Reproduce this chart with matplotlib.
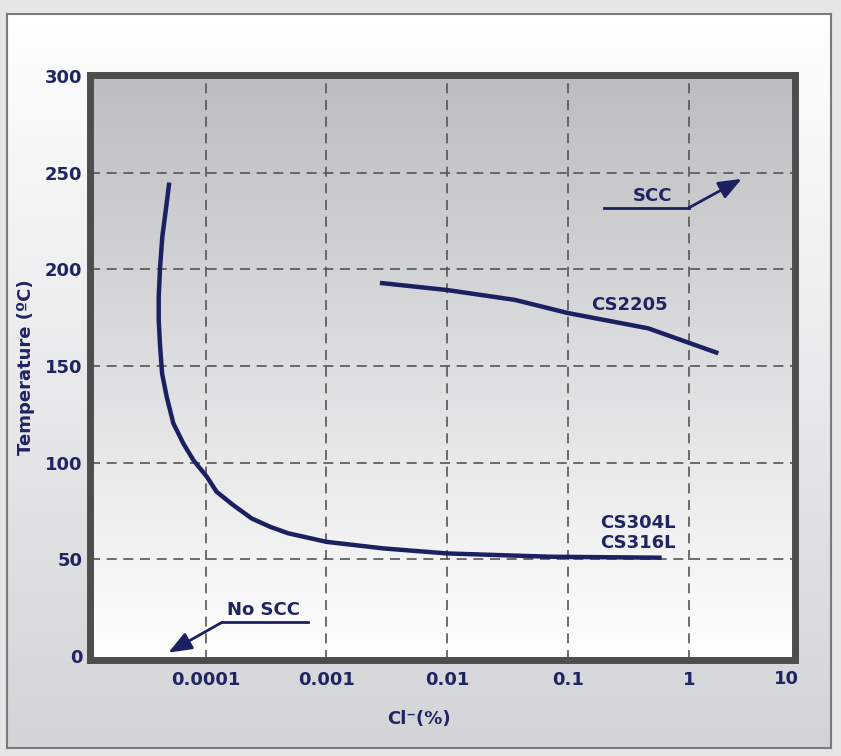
import numpy as np
import matplotlib
matplotlib.use('Agg')
import matplotlib.pyplot as plt
from matplotlib.colors import LinearSegmentedColormap

# curve data
cs304_cl = [4.99e-5, 4.67e-5, 4.37e-5, 4.19e-5, 4.08e-5, 4.08e-5, 4.19e-5, 4.35e-5,
            4.75e-5, 5.39e-5, 6.52e-5, 7.89e-5, 1.02e-4, 1.23e-4, 1.69e-4, 2.40e-4,
            3.41e-4, 4.83e-4, 1.0e-3, 2.96e-3, 1.0e-2, 7.1e-2, 0.597]
cs304_temp = [244.9, 230.7, 216.9, 201.4, 185.9, 173.8, 160, 146.2,
              134.1, 120.4, 110, 101.4, 92.8, 85, 78.1, 71.2,
              66.9, 63.5, 59.1, 55.7, 53.1, 51.4, 50.9]

cs2205_cl = [2.77e-3, 1.0e-2, 3.64e-2, 0.1, 0.462, 1.76]
cs2205_temp = [193, 189.3, 184.2, 177.4, 169.5, 156.6]

x_ticks = [1e-4, 1e-3, 1e-2, 1e-1, 1]
x_ticklabels = ['0.0001', '0.001', '0.01', '0.1', '1']
y_ticks = [0, 50, 100, 150, 200, 250, 300]

navy = '#1b2160'
text_col = '#1f2462'
fs = 13

fig = plt.figure(figsize=(8.41, 7.56), dpi=100)
fig.patch.set_facecolor('#e6e6e6')
W, H = 841.0, 756.0

def box(x0, y0, x1, y1):
    return [x0 / W, 1 - y1 / H, (x1 - x0) / W, (y1 - y0) / H]

# outer panel with gradient (white at top, grey at bottom)
panel = fig.add_axes(box(7, 13.5, 831, 748))
cm_panel = LinearSegmentedColormap.from_list('p', ['#ffffff', '#d3d4d7'])
panel.imshow(np.linspace(0, 1, 256).reshape(-1, 1), cmap=cm_panel, aspect='auto',
             extent=[0, 1, 0, 1])
panel.set_xticks([])
panel.set_yticks([])
for s in panel.spines.values():
    s.set_color('#7a7a7a')
    s.set_linewidth(1.5)

# gradient behind the plot area (grey at top, white at bottom)
pos = box(89.5, 75, 795.5, 660)
bg = fig.add_axes(pos)
cm_ax = LinearSegmentedColormap.from_list('a', ['#bcbdc0', '#ffffff'])
bg.imshow(np.linspace(0, 1, 256).reshape(-1, 1), cmap=cm_ax, aspect='auto',
          extent=[0, 1, 0, 1])
bg.axis('off')

ax = fig.add_axes(pos)
ax.patch.set_alpha(0)
ax.set_xscale('log')
ax.set_xlim(1.09e-5, 7.66)
ax.set_ylim(-2, 300.5)

ax.plot(cs304_cl, cs304_temp, color=navy, lw=3.2, solid_capstyle='butt',
        solid_joinstyle='round', zorder=3)
ax.plot(cs2205_cl, cs2205_temp, color=navy, lw=3.2, solid_capstyle='butt',
        solid_joinstyle='round', zorder=3)

ax.set_xticks(x_ticks)
ax.set_xticklabels(x_ticklabels)
ax.xaxis.set_minor_locator(matplotlib.ticker.NullLocator())
ax.set_yticks(y_ticks)
ax.tick_params(length=0, labelsize=fs, labelcolor=text_col)
ax.tick_params(axis='x', pad=8)
ax.tick_params(axis='y', pad=5)
for lab in ax.get_xticklabels() + ax.get_yticklabels():
    lab.set_fontweight('bold')
ax.text(0.9875, -0.0325, '10', transform=ax.transAxes, ha='center', va='center',
        fontsize=fs, fontweight='bold', color=text_col)

ax.grid(True, which='major', color='#555555', lw=1.2, ls=(0, (6, 4)))
ax.yaxis.get_gridlines()[0].set_visible(False)
for s in ax.spines.values():
    s.set_color('#4d4d4d')
    s.set_linewidth(5)
    s.set_zorder(4)

ax.set_ylabel('Temperature (ºC)', fontsize=fs, fontweight='bold', color=text_col)
ax.yaxis.set_label_coords(-0.077, 0.5)
ax.set_xlabel('Cl⁻(%)', fontsize=fs, fontweight='bold', color=text_col)
ax.xaxis.set_label_coords(0.4667, -0.086)

# annotations
head = '-|>,head_length=1.4,head_width=0.55'
ax.plot([0.199, 1.0], [231.8, 231.8], color=navy, lw=2)
ax.annotate('', xy=(2.75, 246.8), xytext=(1.0, 231.8),
            arrowprops=dict(arrowstyle=head, color=navy, lw=2, shrinkA=0, shrinkB=0))
ax.text(0.497, 237.9, 'SCC', ha='center', va='center', fontsize=fs,
        fontweight='bold', color=text_col)

ax.plot([1.356e-4, 7.03e-4], [17.4, 17.4], color=navy, lw=2)
ax.annotate('', xy=(4.9e-5, 1.8), xytext=(1.356e-4, 17.4),
            arrowprops=dict(arrowstyle=head, color=navy, lw=2, shrinkA=0, shrinkB=0))
ax.text(3.03e-4, 23.8, 'No SCC', ha='center', va='center', fontsize=fs,
        fontweight='bold', color=text_col)

ax.text(0.324, 181.6, 'CS2205', ha='center', va='center', fontsize=fs,
        fontweight='bold', color=text_col)
ax.text(0.379, 68.6, 'CS304L', ha='center', va='center', fontsize=fs,
        fontweight='bold', color=text_col)
ax.text(0.379, 58.5, 'CS316L', ha='center', va='center', fontsize=fs,
        fontweight='bold', color=text_col)

plt.savefig('out.png', dpi=100, facecolor=fig.get_facecolor())
